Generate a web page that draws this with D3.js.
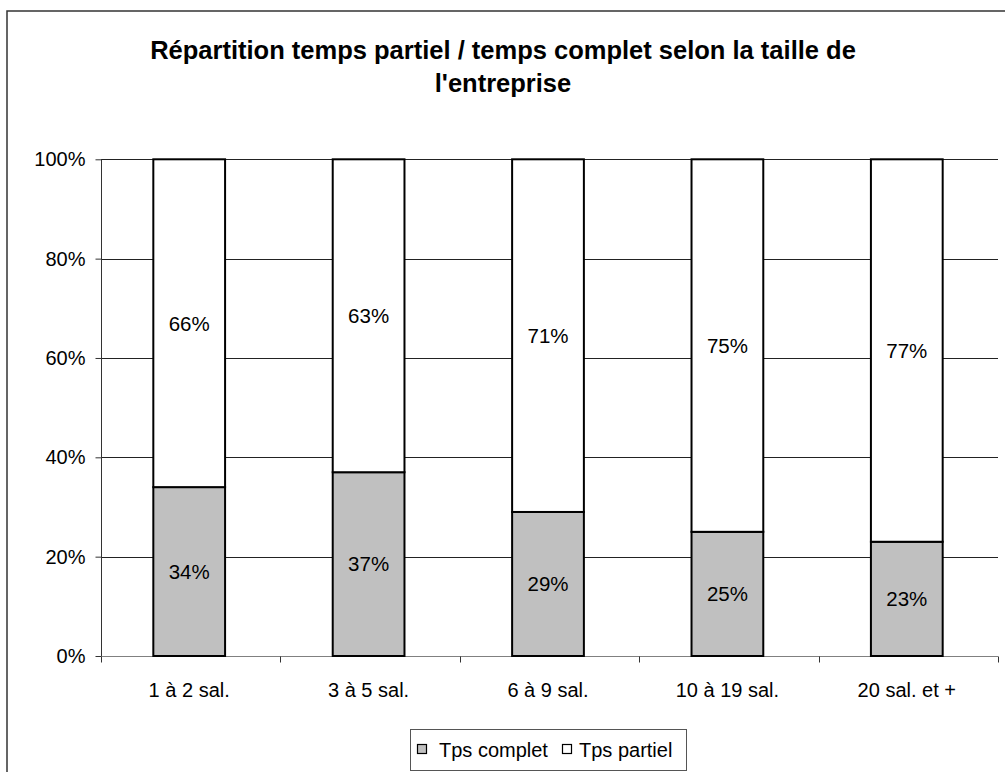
<!DOCTYPE html>
<html>
<head>
<meta charset="utf-8">
<script src="https://cdn.jsdelivr.net/npm/d3@7"></script>
<style>
  html, body { margin: 0; padding: 0; background: #fff; }
  svg { display: block; font-family: "Liberation Sans", Arial, sans-serif; }
</style>
</head>
<body>
<svg id="chart" width="1005" height="772"></svg>
<script>
// Company size classes and the share of each working-time type
const categories = ["1 à 2 sal.", "3 à 5 sal.", "6 à 9 sal.", "10 à 19 sal.", "20 sal. et +"];
const tpsComplet = [0.34, 0.37, 0.29, 0.25, 0.23];
const tpsPartiel = [0.66, 0.63, 0.71, 0.75, 0.77];
const seriesNames = ["Tps complet", "Tps partiel"];
const seriesColors = ["#c0c0c0", "#ffffff"];
const yTicks = [0, 0.2, 0.4, 0.6, 0.8, 1];
const titleLines = ["Répartition temps partiel / temps complet selon la taille de", "l'entreprise"];

const svg = d3.select("#chart");

// Outer chart frame
svg.append("rect")
  .attr("x", 7).attr("y", 11).attr("width", 1010).attr("height", 800)
  .attr("fill", "#fff").attr("stroke", "#333").attr("stroke-width", 1.5);

// Title
const title = svg.append("text")
  .attr("text-anchor", "middle")
  .attr("font-weight", "bold")
  .attr("font-size", 25.5)
  .attr("fill", "#000");
titleLines.forEach((t, i) => {
  title.append("tspan").attr("x", 503).attr("y", 59 + i * 33).text(t);
});

const plot = { left: 101, right: 998, top: 159.3, bottom: 656 };

const y = d3.scaleLinear().domain([0, 1]).range([plot.bottom, plot.top]);
const xAxisScale = d3.scaleBand().domain(categories).range([plot.left, plot.right]);
const xBars = d3.scaleBand().domain(categories).range([plot.left - 1.5, plot.right - 1.5])
  .paddingInner(0.6).paddingOuter(0.3);

// Horizontal gridlines
svg.append("g")
  .selectAll("line")
  .data(yTicks.filter(d => d > 0))
  .join("line")
  .attr("x1", plot.left).attr("x2", plot.right)
  .attr("y1", d => Math.round(y(d)) + 0.5).attr("y2", d => Math.round(y(d)) + 0.5)
  .attr("stroke", "#222").attr("stroke-width", 1);

// Y axis
const yAxis = d3.axisLeft(y).tickValues(yTicks).tickFormat(d3.format(".0%")).tickSize(6).tickPadding(10);
const gy = svg.append("g").attr("transform", `translate(${plot.left + 0.5},0)`).call(yAxis);
gy.select(".domain").attr("stroke", "#333").attr("d", `M0,${plot.top}V${plot.bottom}`);
gy.selectAll(".tick line").attr("stroke", "#333");
gy.selectAll(".tick text").attr("font-size", 20).attr("font-family", "Liberation Sans, Arial, sans-serif").attr("fill", "#000");

// X axis with ticks at category boundaries
const gx = svg.append("g").attr("transform", `translate(0,${plot.bottom + 0.5})`);
gx.append("line").attr("x1", plot.left).attr("x2", plot.right).attr("stroke", "#808080");
const boundaries = categories.map(c => xAxisScale(c)).concat([plot.right]);
gx.selectAll("line.tick")
  .data(boundaries)
  .join("line").attr("class", "tick")
  .attr("x1", d => Math.round(d) + 0.5).attr("x2", d => Math.round(d) + 0.5)
  .attr("y1", 0).attr("y2", 6).attr("stroke", "#333");
gx.selectAll("text")
  .data(categories)
  .join("text")
  .attr("x", d => xAxisScale(d) + xAxisScale.bandwidth() / 2 - 1.5)
  .attr("y", 40)
  .attr("text-anchor", "middle")
  .attr("font-size", 20)
  .attr("fill", "#000")
  .text(d => d);

// Stacked bars
const rows = categories.map((c, i) => ({ cat: c, values: [tpsComplet[i], tpsPartiel[i]] }));
const stack = d3.stack().keys([0, 1]).value((d, k) => d.values[k]);
const layers = stack(rows);

layers.forEach((layer, k) => {
  const g = svg.append("g");
  g.selectAll("rect")
    .data(layer)
    .join("rect")
    .attr("x", d => xBars(d.data.cat))
    .attr("width", xBars.bandwidth())
    .attr("y", d => y(d[1]))
    .attr("height", d => y(d[0]) - y(d[1]))
    .attr("fill", seriesColors[k])
    .attr("stroke", "#000")
    .attr("stroke-width", 2);
  g.selectAll("text")
    .data(layer)
    .join("text")
    .attr("x", d => xBars(d.data.cat) + xBars.bandwidth() / 2)
    .attr("y", d => (y(d[0]) + y(d[1])) / 2)
    .attr("dy", "0.36em")
    .attr("text-anchor", "middle")
    .attr("font-size", 20.5)
    .attr("fill", "#000")
    .text(d => d3.format(".0%")(d.data.values[k]));
});

// Legend
const legend = svg.append("g");
legend.append("rect")
  .attr("x", 410.5).attr("y", 729.5).attr("width", 276).attr("height", 41)
  .attr("fill", "#fff").attr("stroke", "#555").attr("stroke-width", 1);
const legendItems = [{ x: 417, tx: 439 }, { x: 562, tx: 579 }];
legendItems.forEach((it, k) => {
  legend.append("rect")
    .attr("x", it.x + 0.5).attr("y", 744.5).attr("width", 9).attr("height", 9)
    .attr("fill", seriesColors[k]).attr("stroke", "#000").attr("stroke-width", 1.2);
  legend.append("text")
    .attr("x", it.tx).attr("y", 757)
    .attr("font-size", 20).attr("fill", "#000")
    .text(seriesNames[k]);
});
</script>
</body>
</html>
